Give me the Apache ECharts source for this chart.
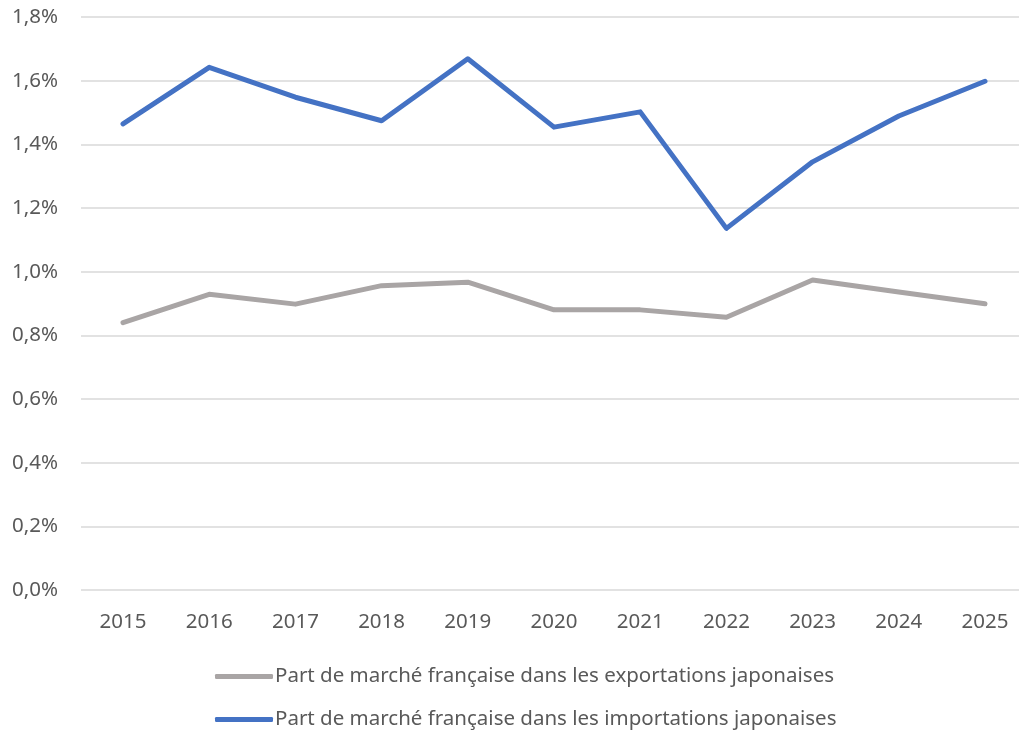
<!DOCTYPE html>
<html>
<head>
<meta charset="utf-8">
<script src="https://cdn.jsdelivr.net/npm/echarts@6/dist/echarts.min.js"></script>
<style>
  html, body { margin: 0; padding: 0; background: #fff; }
  #chart { width: 1019px; height: 737px; }
</style>
</head>
<body>
<div id="chart"></div>
<script>
  // années
  var years = ['2015', '2016', '2017', '2018', '2019', '2020', '2021', '2022', '2023', '2024', '2025']
  // parts de marché (en fraction)
  var exportShare = [0.00840, 0.00929, 0.00898, 0.00956, 0.00967, 0.00880, 0.00880, 0.00857, 0.00974, 0.00936, 0.00899]
  var importShare = [0.01464, 0.01642, 0.01548, 0.01474, 0.01669, 0.01454, 0.01502, 0.01136, 0.01345, 0.01489, 0.01598]
  var exportName = 'Part de marché française dans les exportations japonaises'
  var importName = 'Part de marché française dans les importations japonaises'

  var font = 'Noto Sans'
  var textColor = '#595959'
  var fontSize = 20.5

  var chart = echarts.init(document.getElementById('chart'))
  chart.setOption({
    animation: false,
    color: ['#A9A5A5', '#4472C4'],
    // grid 0 : quadrillage et axe des valeurs, grid 1 : courbes et années
    grid: [
      { left: 81, right: 0, top: 17, height: 573 },
      { left: 123, right: 34, top: 17, height: 573 }
    ],
    legend: {
      orient: 'vertical',
      left: 210,
      top: 661,
      itemGap: 22,
      itemWidth: 58,
      itemHeight: 5,
      icon: 'roundRect',
      textStyle: {
        fontFamily: font,
        fontSize: fontSize,
        color: textColor,
        padding: [0, 0, 0, -3]
      },
      data: [exportName, importName]
    },
    xAxis: [
      {
        gridIndex: 0,
        type: 'category',
        data: years,
        show: false
      },
      {
        gridIndex: 1,
        type: 'category',
        data: years,
        boundaryGap: false,
        axisLine: { show: false },
        axisTick: { show: false },
        axisLabel: {
          margin: 22,
          fontFamily: font,
          fontSize: fontSize,
          color: textColor
        }
      }
    ],
    yAxis: [
      {
        gridIndex: 0,
        type: 'value',
        min: 0,
        max: 0.018,
        interval: 0.002,
        axisLine: { show: false },
        axisTick: { show: false },
        splitLine: { lineStyle: { color: '#D9D9D9', width: 1.5 } },
        axisLabel: {
          margin: 23,
          fontFamily: font,
          fontSize: fontSize,
          color: textColor,
          formatter: function (v) {
            return (v * 100).toFixed(1).replace('.', ',') + '%'
          }
        }
      },
      {
        gridIndex: 1,
        type: 'value',
        min: 0,
        max: 0.018,
        interval: 0.002,
        show: false
      }
    ],
    series: [
      {
        name: exportName,
        type: 'line',
        xAxisIndex: 1,
        yAxisIndex: 1,
        data: exportShare,
        symbol: 'none',
        lineStyle: { width: 5, cap: 'round', join: 'round' }
      },
      {
        name: importName,
        type: 'line',
        xAxisIndex: 1,
        yAxisIndex: 1,
        data: importShare,
        symbol: 'none',
        lineStyle: { width: 5, cap: 'round', join: 'round' }
      }
    ]
  })
</script>
</body>
</html>
